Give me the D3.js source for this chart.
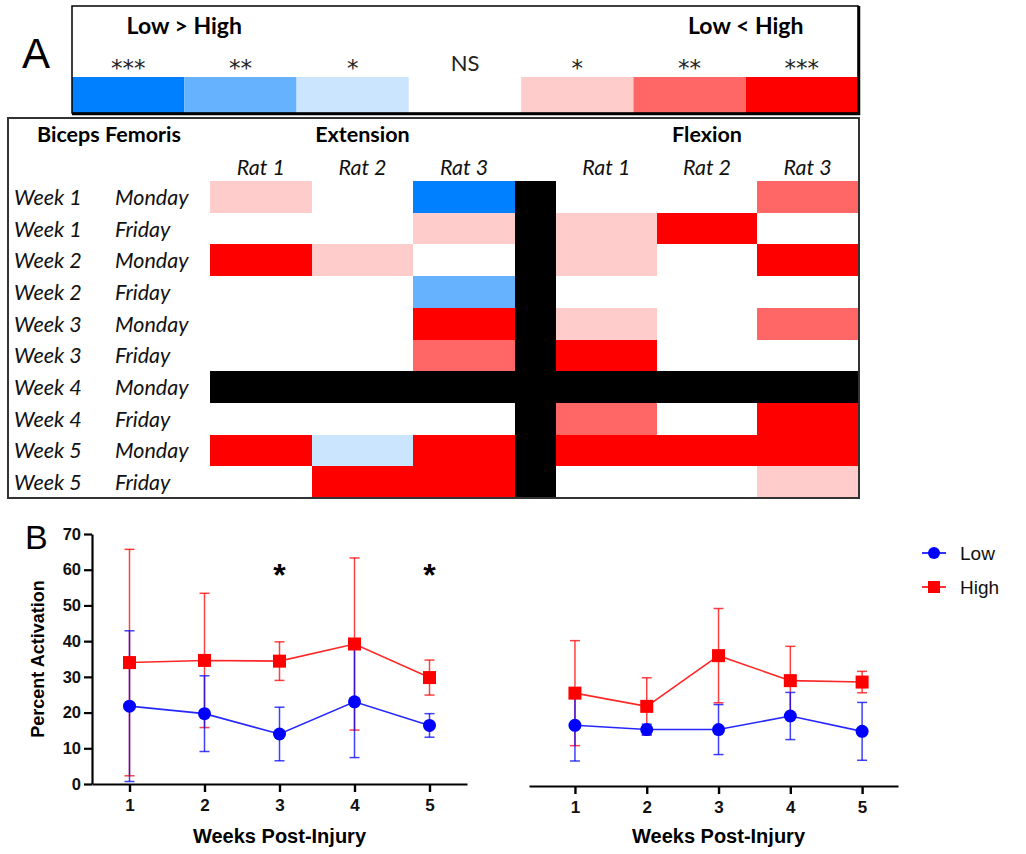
<!DOCTYPE html>
<html>
<head>
<meta charset="utf-8">
<script src="https://cdn.jsdelivr.net/npm/d3@7"></script>
<style>
  body { margin: 0; background: #fff; }
  svg { display: block; }
</style>
</head>
<body>
<div id="chart"></div>
<script>
// ---- data ----
// significance levels: -3..-1 = Low > High, 0 = NS, 1..3 = Low < High, null = no recording
const legendLevels = [-3, -2, -1, 0, 1, 2, 3];
const legendStars = ["***", "**", "*", "NS", "*", "**", "***"];

const ratLabels = ["Rat 1", "Rat 2", "Rat 3"];
const weekLabels = ["Week 1", "Week 1", "Week 2", "Week 2", "Week 3", "Week 3", "Week 4", "Week 4", "Week 5", "Week 5"];
const dayLabels = ["Monday", "Friday", "Monday", "Friday", "Monday", "Friday", "Monday", "Friday", "Monday", "Friday"];

const extension = [
  [1, 0, -3],
  [0, 0, 1],
  [3, 1, 0],
  [0, 0, -2],
  [0, 0, 3],
  [0, 0, 2],
  [null, null, null],
  [0, 0, 0],
  [3, -1, 3],
  [0, 3, 3]
];
const flexion = [
  [0, 0, 2],
  [1, 3, 0],
  [1, 0, 3],
  [0, 0, 0],
  [1, 0, 2],
  [3, 0, 0],
  [null, null, null],
  [2, 0, 3],
  [3, 3, 3],
  [0, 0, 1]
];

const weeks = [1, 2, 3, 4, 5];
// left panel (Extension)
const extLowMean = [21.8, 19.7, 14.0, 23.0, 16.4];
const extLowSd = [21.1, 10.6, 7.5, 15.6, 3.3];
const extHighMean = [34.0, 34.6, 34.4, 39.2, 29.8];
const extHighSd = [31.7, 18.8, 5.4, 24.1, 4.9];
const extSignificant = [3, 5];
// right panel (Flexion)
const flxLowMean = [17.0, 15.8, 15.8, 19.6, 15.3];
const flxLowSd = [10.0, 1.5, 7.0, 6.6, 8.1];
const flxHighMean = [26.0, 22.3, 36.5, 29.5, 29.1];
const flxHighSd = [14.7, 8.0, 13.2, 9.6, 3.0];
const yTicks = [0, 10, 20, 30, 40, 50, 60, 70];

// ---- drawing ----
const W = 1026, H = 854;
const svg = d3.select("#chart").append("svg").attr("width", W).attr("height", H);

const tableFont = "Lato, 'Open Sans', sans-serif";
const chartFont = "'Liberation Sans', Arial, sans-serif";

const levelColor = d3.scaleOrdinal()
  .domain(legendLevels)
  .range(["#007fff", "#66b2ff", "#cce5ff", "#ffffff", "#ffcccc", "#ff6666", "#ff0000"]);

// Panel label A
svg.append("text").attr("x", 22).attr("y", 68)
  .attr("font-family", chartFont).attr("font-size", 42).text("A");

// --- significance legend ---
const legX = d3.scaleBand().domain(legendLevels).range([72, 858]);
const legend = svg.append("g");

legend.selectAll("rect.sw")
  .data(legendLevels)
  .enter().append("rect")
  .attr("class", "sw")
  .attr("x", d => legX(d))
  .attr("y", 77)
  .attr("width", legX.bandwidth())
  .attr("height", 36)
  .attr("fill", d => levelColor(d));

legend.selectAll("text.star")
  .data(legendLevels)
  .enter().append("text")
  .attr("class", "star")
  .attr("x", d => legX(d) + legX.bandwidth() / 2)
  .attr("y", d => d === 0 ? 71 : 76)
  .attr("text-anchor", "middle")
  .attr("font-family", d => d === 0 ? tableFont : "'DejaVu Sans', sans-serif")
  .attr("font-size", d => d === 0 ? 22 : 23)
  .attr("fill", "#222")
  .text((d, i) => legendStars[i]);

legend.append("text").attr("x", legX(-2)).attr("y", 34)
  .attr("text-anchor", "middle").attr("font-family", tableFont)
  .attr("font-weight", "bold").attr("font-size", 23).text("Low > High");
legend.append("text").attr("x", legX(3)).attr("y", 34)
  .attr("text-anchor", "middle").attr("font-family", tableFont)
  .attr("font-weight", "bold").attr("font-size", 23).text("Low < High");

legend.append("rect").attr("x", 72).attr("y", 6).attr("width", 786).attr("height", 107)
  .attr("fill", "none").attr("stroke", "#000").attr("stroke-width", 1.5);
legend.append("path").attr("d", "M859,6V114H72")
  .attr("fill", "none").attr("stroke", "#000").attr("stroke-width", 2.5);

// --- heatmap table ---
const rowIds = d3.range(weekLabels.length);
const yRow = d3.scaleBand().domain(rowIds).range([181, 498]);
const xExt = d3.scaleBand().domain(d3.range(3)).range([210, 515]);
const xFlx = d3.scaleBand().domain(d3.range(3)).range([556, 858]);

const table = svg.append("g").attr("shape-rendering", "crispEdges");

function drawCells(grid, xs) {
  const cells = [];
  grid.forEach((row, r) => row.forEach((v, c) => cells.push({ r, c, v })));
  table.selectAll(null)
    .data(cells)
    .enter().append("rect")
    .attr("x", d => xs(d.c))
    .attr("y", d => yRow(d.r))
    .attr("width", xs.bandwidth() + 0.5)
    .attr("height", yRow.bandwidth() + 0.5)
    .attr("fill", d => d.v === null ? "#000" : levelColor(d.v));
}
drawCells(extension, xExt);
drawCells(flexion, xFlx);

// black separator column between Extension and Flexion
table.append("rect")
  .attr("x", xExt.range()[1]).attr("y", yRow.range()[0])
  .attr("width", xFlx.range()[0] - xExt.range()[1])
  .attr("height", yRow.range()[1] - yRow.range()[0])
  .attr("fill", "#000");

const labelText = table.append("g").attr("shape-rendering", "auto");

labelText.selectAll("text.week")
  .data(rowIds)
  .enter().append("text")
  .attr("class", "week")
  .attr("x", 14)
  .attr("y", d => yRow(d) + yRow.bandwidth() / 2 + 8)
  .attr("font-family", tableFont).attr("font-style", "italic").attr("font-size", 21.5)
  .attr("fill", "#111")
  .text(d => weekLabels[d]);

labelText.selectAll("text.day")
  .data(rowIds)
  .enter().append("text")
  .attr("class", "day")
  .attr("x", 115)
  .attr("y", d => yRow(d) + yRow.bandwidth() / 2 + 8)
  .attr("font-family", tableFont).attr("font-style", "italic").attr("font-size", 21.5)
  .attr("fill", "#111")
  .text(d => dayLabels[d]);

[xExt, xFlx].forEach(xs => {
  labelText.selectAll(null)
    .data(ratLabels)
    .enter().append("text")
    .attr("x", (d, i) => xs(i) + xs.bandwidth() / 2)
    .attr("y", 175)
    .attr("text-anchor", "middle")
    .attr("font-family", tableFont).attr("font-style", "italic").attr("font-size", 21.5)
    .attr("fill", "#111")
    .text(d => d);
});

labelText.append("text").attr("x", 37).attr("y", 142)
  .attr("font-family", tableFont).attr("font-weight", "bold").attr("font-size", 21.5)
  .text("Biceps Femoris");
labelText.append("text").attr("x", (xExt.range()[0] + xExt.range()[1]) / 2).attr("y", 142)
  .attr("text-anchor", "middle")
  .attr("font-family", tableFont).attr("font-weight", "bold").attr("font-size", 21.5)
  .text("Extension");
labelText.append("text").attr("x", (xFlx.range()[0] + xFlx.range()[1]) / 2).attr("y", 142)
  .attr("text-anchor", "middle")
  .attr("font-family", tableFont).attr("font-weight", "bold").attr("font-size", 21.5)
  .text("Flexion");

table.append("rect").attr("x", 8).attr("y", 118).attr("width", 851).attr("height", 380)
  .attr("fill", "none").attr("stroke", "#333").attr("stroke-width", 1.5);

// --- panel B line charts ---
svg.append("text").attr("x", 25).attr("y", 549)
  .attr("font-family", chartFont).attr("font-size", 34).text("B");

const lowColor = "#0000ff", highColor = "#ff0000";

function drawPanel(opts) {
  const g = svg.append("g");
  const x = d3.scaleLinear().domain(opts.xDomain).range(opts.xRange);
  const y = d3.scaleLinear().domain([0, 70]).range(opts.yRange);
  const y0 = opts.yRange[0];

  const xAxis = g.append("g")
    .attr("transform", `translate(0,${y0})`)
    .call(d3.axisBottom(x).tickValues(weeks).tickFormat(d3.format("d"))
      .tickSize(8).tickPadding(7).tickSizeOuter(0));
  xAxis.select(".domain").attr("stroke-width", 2.2);
  xAxis.selectAll(".tick line").attr("stroke-width", 2.4);
  xAxis.selectAll("text").attr("font-family", chartFont).attr("font-weight", "bold")
    .attr("font-size", 17).attr("fill", "#111");

  if (opts.yAxis) {
    const yAxis = g.append("g")
      .attr("transform", `translate(${opts.xRange[0]},0)`)
      .call(d3.axisLeft(y).tickValues(yTicks).tickSize(8).tickPadding(3).tickSizeOuter(0));
    yAxis.select(".domain").attr("stroke-width", 2.2);
    yAxis.selectAll(".tick line").attr("stroke-width", 2.2);
    yAxis.selectAll("text").attr("font-family", chartFont).attr("font-weight", "bold")
      .attr("font-size", 16.5).attr("fill", "#111");

    g.append("text")
      .attr("transform", `translate(44,${(opts.yRange[0] + opts.yRange[1]) / 2}) rotate(-90)`)
      .attr("text-anchor", "middle")
      .attr("font-family", chartFont).attr("font-weight", "bold").attr("font-size", 18)
      .text("Percent Activation");
  }

  g.append("text")
    .attr("x", x(3)).attr("y", 843)
    .attr("text-anchor", "middle")
    .attr("font-family", chartFont).attr("font-weight", "bold").attr("font-size", 20)
    .text("Weeks Post-Injury");

  const series = [
    { mean: opts.highMean, sd: opts.highSd, color: highColor, shape: "square" },
    { mean: opts.lowMean, sd: opts.lowSd, color: lowColor, shape: "circle" }
  ];

  series.forEach(s => {
    const pts = weeks.map((w, i) => ({ w, m: s.mean[i], sd: s.sd[i] }));
    const eb = g.append("g").attr("stroke", s.color).attr("stroke-opacity", 0.75).attr("stroke-width", 1.5);
    eb.selectAll("line.v").data(pts).enter().append("line")
      .attr("x1", d => x(d.w)).attr("x2", d => x(d.w))
      .attr("y1", d => y(Math.max(0, d.m - d.sd))).attr("y2", d => y(d.m + d.sd));
    eb.selectAll("line.t").data(pts).enter().append("line")
      .attr("x1", d => x(d.w) - 5).attr("x2", d => x(d.w) + 5)
      .attr("y1", d => y(d.m + d.sd)).attr("y2", d => y(d.m + d.sd));
    eb.selectAll("line.b").data(pts).enter().append("line")
      .attr("x1", d => x(d.w) - 5).attr("x2", d => x(d.w) + 5)
      .attr("y1", d => y(Math.max(0, d.m - d.sd))).attr("y2", d => y(Math.max(0, d.m - d.sd)));

    g.append("path")
      .datum(pts)
      .attr("fill", "none").attr("stroke", s.color).attr("stroke-opacity", 0.85).attr("stroke-width", 1.6)
      .attr("d", d3.line().x(d => x(d.w)).y(d => y(d.m)));
  });

  series.forEach(s => {
    const pts = weeks.map((w, i) => ({ w, m: s.mean[i] }));
    if (s.shape === "circle") {
      g.selectAll(null).data(pts).enter().append("circle")
        .attr("cx", d => x(d.w)).attr("cy", d => y(d.m)).attr("r", 6.5).attr("fill", s.color);
    } else {
      g.selectAll(null).data(pts).enter().append("rect")
        .attr("x", d => x(d.w) - 6.5).attr("y", d => y(d.m) - 6.5)
        .attr("width", 13).attr("height", 13).attr("fill", s.color);
    }
  });

  if (opts.significant) {
    g.selectAll(null).data(opts.significant).enter().append("text")
      .attr("x", d => x(d)).attr("y", y(55.5))
      .attr("text-anchor", "middle")
      .attr("font-family", chartFont).attr("font-weight", "bold").attr("font-size", 32)
      .text("*");
  }
}

drawPanel({
  xDomain: [0.5, 5.5], xRange: [92, 467], yRange: [784, 534], yAxis: true,
  lowMean: extLowMean, lowSd: extLowSd, highMean: extHighMean, highSd: extHighSd,
  significant: extSignificant
});
drawPanel({
  xDomain: [0.36, 5.5], xRange: [529, 898], yRange: [786, 536], yAxis: false,
  lowMean: flxLowMean, lowSd: flxLowSd, highMean: flxHighMean, highSd: flxHighSd
});

// legend for panel B
const keyItems = [
  { name: "Low", color: lowColor, shape: "circle" },
  { name: "High", color: highColor, shape: "square" }
];
const keyY = d3.scalePoint().domain(keyItems.map(d => d.name)).range([553, 587]);
const key = svg.append("g");
keyItems.forEach(k => {
  const cy = keyY(k.name);
  key.append("line").attr("x1", 922).attr("x2", 946).attr("y1", cy).attr("y2", cy)
    .attr("stroke", k.color).attr("stroke-width", 1.6);
  if (k.shape === "circle") {
    key.append("circle").attr("cx", 934).attr("cy", cy).attr("r", 6).attr("fill", k.color);
  } else {
    key.append("rect").attr("x", 928).attr("y", cy - 6).attr("width", 12).attr("height", 12).attr("fill", k.color);
  }
  key.append("text").attr("x", 960).attr("y", cy + 7)
    .attr("font-family", chartFont).attr("font-size", 19).attr("fill", "#111")
    .text(k.name);
});
</script>
</body>
</html>
